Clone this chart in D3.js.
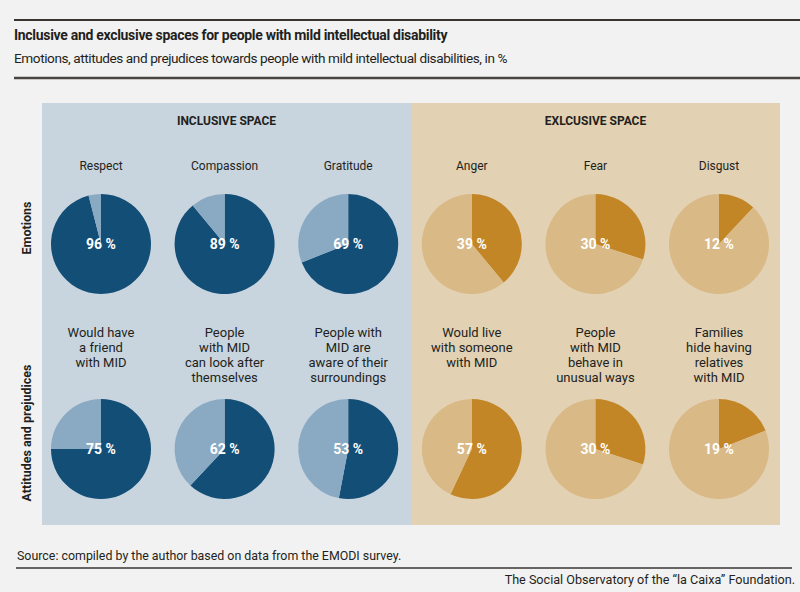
<!DOCTYPE html>
<html>
<head>
<meta charset="utf-8">
<script src="https://cdn.jsdelivr.net/npm/d3@7"></script>
<style>
  html, body { margin: 0; padding: 0; background: #f2f2f2; }
  text { font-family: Roboto, "Noto Sans", sans-serif; fill: #231f20; }
</style>
</head>
<body>
<div id="chart"></div>
<script>
// chart data
var spaces = ["INCLUSIVE SPACE", "EXLCUSIVE SPACE"];
var rowNames = ["Emotions", "Attitudes and prejudices"];
var emotionLabels = ["Respect", "Compassion", "Gratitude", "Anger", "Fear", "Disgust"];
var emotionValues = [96, 89, 69, 39, 30, 12];
var attitudeLabels = [
  ["Would have", "a friend", "with MID"],
  ["People", "with MID", "can look after", "themselves"],
  ["People with", "MID are", "aware of their", "surroundings"],
  ["Would live", "with someone", "with MID"],
  ["People", "with MID", "behave in", "unusual ways"],
  ["Families", "hide having", "relatives", "with MID"]
];
var attitudeValues = [75, 62, 53, 57, 30, 19];

var W = 800, H = 592;
var colours = {
  panel: ["#c8d5df", "#e2d1b3"],
  main: ["#134e77", "#c28626"],
  rest: ["#8aa9c2", "#d9b986"]
};

var svg = d3.select("#chart").append("svg")
    .attr("width", W)
    .attr("height", H);

// header
svg.append("line").attr("x1", 14).attr("x2", W).attr("y1", 20).attr("y2", 20)
    .attr("stroke", "#3a3431").attr("stroke-width", 2);
svg.append("text").attr("x", 14).attr("y", 40)
    .attr("font-size", 14).attr("font-weight", 700).attr("letter-spacing", -0.3)
    .text("Inclusive and exclusive spaces for people with mild intellectual disability");
svg.append("text").attr("x", 14).attr("y", 63)
    .attr("font-size", 13.6).attr("letter-spacing", -0.42)
    .text("Emotions, attitudes and prejudices towards people with mild intellectual disabilities, in %");
svg.append("line").attr("x1", 14).attr("x2", W).attr("y1", 78).attr("y2", 78)
    .attr("stroke", "#4a4542").attr("stroke-width", 2.4);

// scales
var x = d3.scalePoint().domain(d3.range(6)).range([101, 719]);
var y = d3.scalePoint().domain([0, 1]).range([244, 449]);
var panelX = d3.scaleLinear().domain([0, 2]).range([42, 780]);
var r = 50;

// panels
var panels = svg.append("g").selectAll("g").data(spaces).join("g");
panels.append("rect")
    .attr("x", function(d, i) { return panelX(i); })
    .attr("y", 103)
    .attr("width", function(d, i) { return panelX(i + 1) - panelX(i); })
    .attr("height", 422)
    .attr("fill", function(d, i) { return colours.panel[i]; });
panels.append("text")
    .attr("x", function(d, i) { return (panelX(i) + panelX(i + 1)) / 2; })
    .attr("y", 125)
    .attr("text-anchor", "middle")
    .attr("font-size", 12).attr("font-weight", 700)
    .text(function(d) { return d; });

// row labels
svg.append("g").selectAll("text").data(rowNames).join("text")
    .attr("transform", function(d, i) { return "translate(31," + (y(i) - 16) + ") rotate(-90)"; })
    .attr("text-anchor", "middle")
    .attr("font-size", 12.5).attr("font-weight", 700)
    .text(function(d) { return d; });

var pie = d3.pie().sort(null);
var arc = d3.arc().innerRadius(0).outerRadius(r);

function drawRow(row, labels, values) {
  var cells = svg.append("g").selectAll("g").data(values).join("g")
      .attr("transform", function(d, i) { return "translate(" + x(i) + "," + y(row) + ")"; });

  cells.selectAll("path")
      .data(function(d, i) {
        var side = i < 3 ? 0 : 1;
        return pie([d, 100 - d]).map(function(s, k) {
          s.fill = k === 0 ? colours.main[side] : colours.rest[side];
          return s;
        });
      })
      .join("path")
      .attr("d", arc)
      .attr("fill", function(d) { return d.fill; });

  cells.append("text")
      .attr("y", 5)
      .attr("text-anchor", "middle")
      .attr("font-size", 14).attr("font-weight", 700)
      .style("fill", "#fff")
      .text(function(d) { return d + " %"; });

  var lab = cells.append("text")
      .attr("text-anchor", "middle")
      .attr("font-size", row === 0 ? 12 : 13);
  lab.selectAll("tspan")
      .data(function(d, i) { var l = labels[i]; return Array.isArray(l) ? l : [l]; })
      .join("tspan")
      .attr("x", 0)
      .attr("y", function(d, k) { return (row === 0 ? -74 : -112) + k * 15; })
      .text(function(d) { return d; });
}

drawRow(0, emotionLabels, emotionValues);
drawRow(1, attitudeLabels, attitudeValues);

// footer
svg.append("text").attr("x", 17).attr("y", 560)
    .attr("font-size", 12.4)
    .text("Source: compiled by the author based on data from the EMODI survey.");
svg.append("line").attr("x1", 16).attr("x2", 792).attr("y1", 568).attr("y2", 568)
    .attr("stroke", "#3a3431").attr("stroke-width", 1.6);
svg.append("text").attr("x", 795).attr("y", 584)
    .attr("text-anchor", "end")
    .attr("font-size", 12.6)
    .text("The Social Observatory of the \u201cla Caixa\u201d Foundation.");
</script>
</body>
</html>
